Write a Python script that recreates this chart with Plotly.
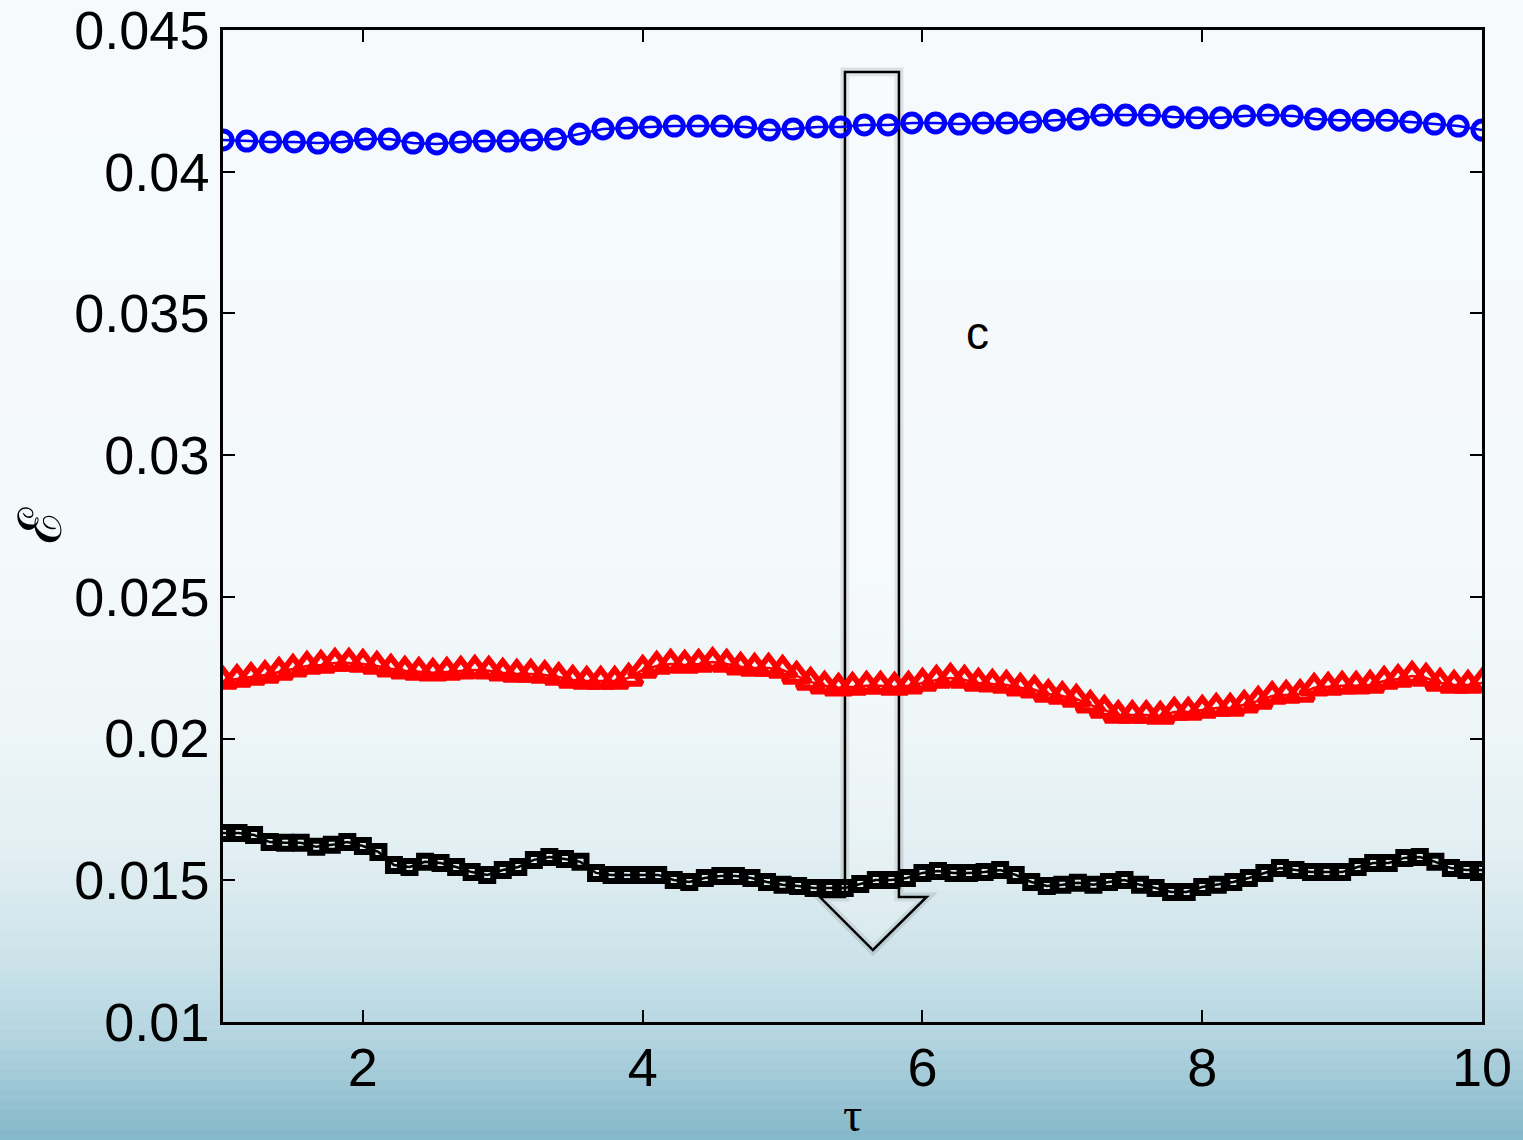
import numpy as np
import plotly.graph_objects as go

# ---------------- data ----------------
x_blue = np.round(np.linspace(1, 10, 54), 4)
y_blue = [0.04112, 0.04108, 0.04105, 0.04105, 0.04101, 0.04105, 0.04115, 0.04115, 0.04101, 0.04098,
          0.04105, 0.04108, 0.04108, 0.04112, 0.04115, 0.04133, 0.04151, 0.04154, 0.04158, 0.04161,
          0.04161, 0.04161, 0.04158, 0.04147, 0.04151, 0.04158, 0.04158, 0.04165, 0.04165, 0.04172,
          0.04172, 0.04168, 0.04172, 0.04172, 0.04175, 0.04182, 0.04186, 0.04200, 0.04200, 0.04200,
          0.04193, 0.04190, 0.04190, 0.04197, 0.04200, 0.04197, 0.04186, 0.04182, 0.04182, 0.04182,
          0.04175, 0.04168, 0.04161, 0.04147]

x_red = np.round(np.linspace(1, 10, 91), 4)
y_red = [0.02203, 0.02210, 0.02217, 0.02224, 0.02235, 0.02246, 0.02256, 0.02260, 0.02267, 0.02267,
         0.02263, 0.02256, 0.02246, 0.02239, 0.02235, 0.02232, 0.02235, 0.02239, 0.02242, 0.02239,
         0.02232, 0.02228, 0.02228, 0.02224, 0.02217, 0.02207, 0.02203, 0.02203, 0.02203, 0.02214,
         0.02242, 0.02256, 0.02263, 0.02260, 0.02263, 0.02270, 0.02263, 0.02253, 0.02249, 0.02249,
         0.02242, 0.02221, 0.02200, 0.02186, 0.02179, 0.02182, 0.02186, 0.02186, 0.02182, 0.02186,
         0.02196, 0.02207, 0.02214, 0.02207, 0.02196, 0.02193, 0.02189, 0.02179, 0.02172, 0.02157,
         0.02150, 0.02140, 0.02119, 0.02101, 0.02083, 0.02083, 0.02083, 0.02080, 0.02094, 0.02094,
         0.02101, 0.02108, 0.02108, 0.02119, 0.02133, 0.02150, 0.02154, 0.02157, 0.02179, 0.02182,
         0.02186, 0.02186, 0.02189, 0.02203, 0.02210, 0.02221, 0.02214, 0.02196, 0.02189, 0.02189,
         0.02196]

x_black = np.round(np.linspace(1, 10, 82), 4)
y_black = [0.01667, 0.01667, 0.01660, 0.01635, 0.01632, 0.01632, 0.01618, 0.01625, 0.01635, 0.01621,
           0.01600, 0.01554, 0.01547, 0.01565, 0.01561, 0.01547, 0.01529, 0.01519, 0.01536, 0.01547,
           0.01572, 0.01582, 0.01575, 0.01565, 0.01526, 0.01519, 0.01519, 0.01519, 0.01519, 0.01501,
           0.01494, 0.01508, 0.01515, 0.01515, 0.01508, 0.01494, 0.01484, 0.01480, 0.01473, 0.01473,
           0.01473, 0.01487, 0.01501, 0.01501, 0.01508, 0.01526, 0.01533, 0.01526, 0.01526, 0.01529,
           0.01536, 0.01519, 0.01494, 0.01480, 0.01484, 0.01491, 0.01484, 0.01494, 0.01501, 0.01484,
           0.01473, 0.01459, 0.01459, 0.01476, 0.01484, 0.01494, 0.01508, 0.01526, 0.01543, 0.01536,
           0.01529, 0.01529, 0.01529, 0.01547, 0.01561, 0.01561, 0.01579, 0.01582, 0.01565, 0.01543,
           0.01536, 0.01536]

x_ticks = [2, 4, 6, 8, 10]
x_ticklabels = ["2", "4", "6", "8", "10"]
y_ticks = [0.01, 0.015, 0.02, 0.025, 0.03, 0.035, 0.04, 0.045]
y_ticklabels = ["0.01", "0.015", "0.02", "0.025", "0.03", "0.035", "0.04", "0.045"]

# ---------------- figure ----------------
W, H = 1523, 1140
L, R, T, B = 223, 41, 30, 118
pw, ph = W - L - R, H - T - B

def px2paper_x(px):
    return (px - L) / pw

def px2paper_y(py):
    return (H - B - py) / ph

fig = go.Figure()

fig.add_trace(go.Scatter(
    x=x_blue, y=y_blue, mode="lines+markers",
    line=dict(color="#0000ff", width=2.5),
    marker=dict(symbol="circle-open", size=18, color="#0000ff", line=dict(width=5, color="#0000ff")),
    showlegend=False))
fig.add_trace(go.Scatter(
    x=x_red, y=y_red, mode="lines+markers",
    line=dict(color="#ff0000", width=2.5),
    marker=dict(symbol="triangle-up-open", size=23, color="#ff0000", line=dict(width=6, color="#ff0000")),
    showlegend=False))
fig.add_trace(go.Scatter(
    x=x_black, y=y_black, mode="lines+markers",
    line=dict(color="#000000", width=2.5),
    marker=dict(symbol="square-open", size=12, color="#000000", line=dict(width=6, color="#000000")),
    showlegend=False))

# ---- background gradient (slide) ----
stops = [(0, (246, 250, 253)), (560, (244, 249, 251)), (720, (238, 246, 248)),
         (850, (226, 239, 243)), (950, (206, 228, 235)), (1030, (182, 214, 225)),
         (1090, (155, 198, 212)), (1140, (130, 182, 201))]

def col_at(py):
    for (y0, c0), (y1, c1) in zip(stops[:-1], stops[1:]):
        if y0 <= py <= y1:
            t = (py - y0) / (y1 - y0) if y1 > y0 else 0
            return tuple(int(round(a + (b - a) * t)) for a, b in zip(c0, c1))
    return stops[-1][1]

shapes = []
step = 10
for py in range(0, H, step):
    c = col_at(py + step / 2)
    shapes.append(dict(type="rect", xref="paper", yref="paper",
                       x0=px2paper_x(-5), x1=px2paper_x(W + 5),
                       y0=px2paper_y(py + step + 1), y1=px2paper_y(py),
                       fillcolor="rgb(%d,%d,%d)" % c, line=dict(width=0), layer="below"))

# ---- hollow block arrow ----
arrow_path = ("M 5.446 0.04352 L 5.832 0.04352 L 5.832 0.01441 L 6.030 0.01441 "
              "L 5.646 0.01254 L 5.267 0.01441 L 5.446 0.01441 Z")
shapes.append(dict(type="path", xref="x", yref="y", path=arrow_path,
                   line=dict(color="rgba(0,0,0,0.10)", width=9), fillcolor="rgba(0,0,0,0)",
                   layer="below"))
shapes.append(dict(type="path", xref="x", yref="y", path=arrow_path,
                   line=dict(color="#000000", width=2.5), fillcolor="rgba(255,255,255,0.2)",
                   layer="below"))

fig.update_layout(
    width=W, height=H,
    margin=dict(l=L, r=R, t=T, b=B, pad=0),
    paper_bgcolor="rgb(246,250,253)",
    plot_bgcolor="rgba(0,0,0,0)",
    font=dict(family="Liberation Sans, Arial, Helvetica", color="#000000"),
    shapes=shapes,
    annotations=[
        dict(text="c", x=6.397, y=0.0343, xref="x", yref="y", showarrow=False,
             font=dict(size=46, family="Liberation Sans, Arial"), xanchor="center", yanchor="middle"),
        dict(text="ℰ", x=px2paper_x(40), y=px2paper_y(525), xref="paper", yref="paper",
             showarrow=False, textangle=-90, font=dict(size=60, family="DejaVu Serif"),
             xanchor="center", yanchor="middle"),
        dict(text="τ", x=px2paper_x(852), y=px2paper_y(1114), xref="paper", yref="paper",
             showarrow=False, font=dict(size=48, family="Liberation Serif, Times New Roman"),
             xanchor="center", yanchor="middle"),
    ],
)

fig.update_xaxes(range=[1, 10], tickvals=x_ticks, ticktext=x_ticklabels, automargin=False,
                 ticklabeloverflow="allow", ticklabelstandoff=-4,
                 showgrid=False, zeroline=False, showline=True, linecolor="#000000", linewidth=2.5,
                 mirror="ticks", ticks="inside", ticklen=12, tickwidth=1.5, tickcolor="#000000",
                 tickfont=dict(size=54, family="Liberation Sans, Arial"))
fig.update_yaxes(range=[0.01, 0.045], tickvals=y_ticks, ticktext=y_ticklabels, automargin=False,
                 ticklabeloverflow="allow",
                 showgrid=False, zeroline=False, showline=True, linecolor="#000000", linewidth=2.5,
                 mirror="ticks", ticks="inside", ticklen=12, tickwidth=1.5, tickcolor="#000000",
                 tickfont=dict(size=54, family="Liberation Sans, Arial"))

fig.write_html("out.html")
